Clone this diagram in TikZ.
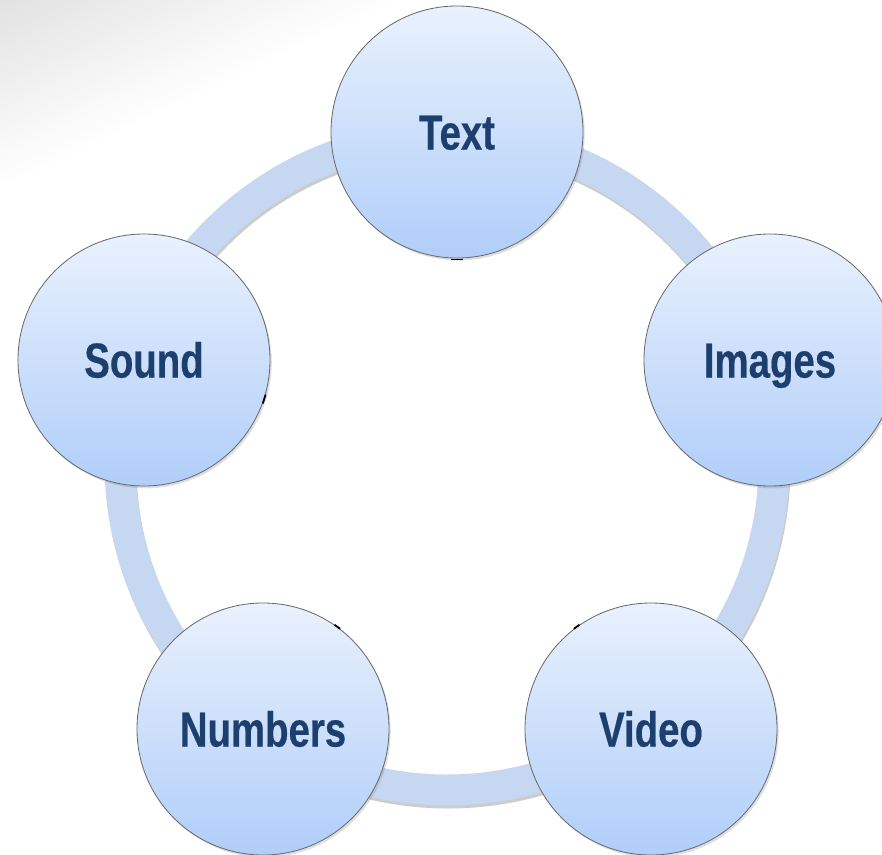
\documentclass[tikz,border=0pt]{standalone}
\usepackage{fontspec}
\newfontfamily\labelfont{Liberation Sans}[FakeStretch=0.78, BoldFeatures={FakeBold=0.4}]
\usetikzlibrary{shadows}
\definecolor{ringblue}{RGB}{198,215,241}
\definecolor{bubbletop}{RGB}{233,241,253}
\definecolor{bubblebot}{RGB}{176,206,249}
\definecolor{bubbleline}{RGB}{105,105,105}
\definecolor{labelnavy}{RGB}{29,63,110}

\begin{document}
\begin{tikzpicture}[x=0.03cm, y=-0.03cm,
    bubble/.style={circle, draw=bubbleline, line width=0.7pt, top color=bubbletop, bottom color=bubblebot,
        minimum size=7.56cm, inner sep=0pt, text height=30pt, text depth=0pt,
        drop shadow={shadow xshift=1.5pt, shadow yshift=-2pt, opacity=0.25},
        font=\labelfont\bfseries\fontsize{42}{50}\selectfont, text=labelnavy},
    stub/.style={line width=1.5pt}]
    \useasboundingbox (0,0) rectangle (882,854);
    \clip (0,0) rectangle (882,854);
    % faint corner shading
    \begin{scope}[transform canvas={shift={(0,190)}, rotate=25.4}]
        \shade[top color=black!12, bottom color=white] (-60,0) rectangle (520,-180);
    \end{scope}
    % ring behind the bubbles
    \draw[black, opacity=0.2, line width=0.93cm] (448,466) circle[radius=327];
    \draw[ringblue, line width=0.93cm] (447,463) circle[radius=327];
    % bubbles
    \node[bubble] (text) at (457,132) {Text};
    \node[bubble] (images) at (770,360) {Images};
    \node[bubble] (video) at (651,729) {Video};
    \node[bubble] (numbers) at (263,729) {Numbers};
    \node[bubble] (sound) at (144,360) {Sound};
    % small stubs left on the rims
    \draw[stub] ([xshift=-5pt, yshift=-1pt]text.-90) -- ++(10pt,0);
    \draw[stub] ([shift={(72:-4pt)}]sound.-18) -- ++(72:8pt);
    \draw[stub] ([shift={(-36:-3pt)}]numbers.54) -- ++(-36:6pt);
    \draw[stub] ([shift={(36:-3pt)}]video.126) -- ++(36:6pt);
\end{tikzpicture}
\end{document}
